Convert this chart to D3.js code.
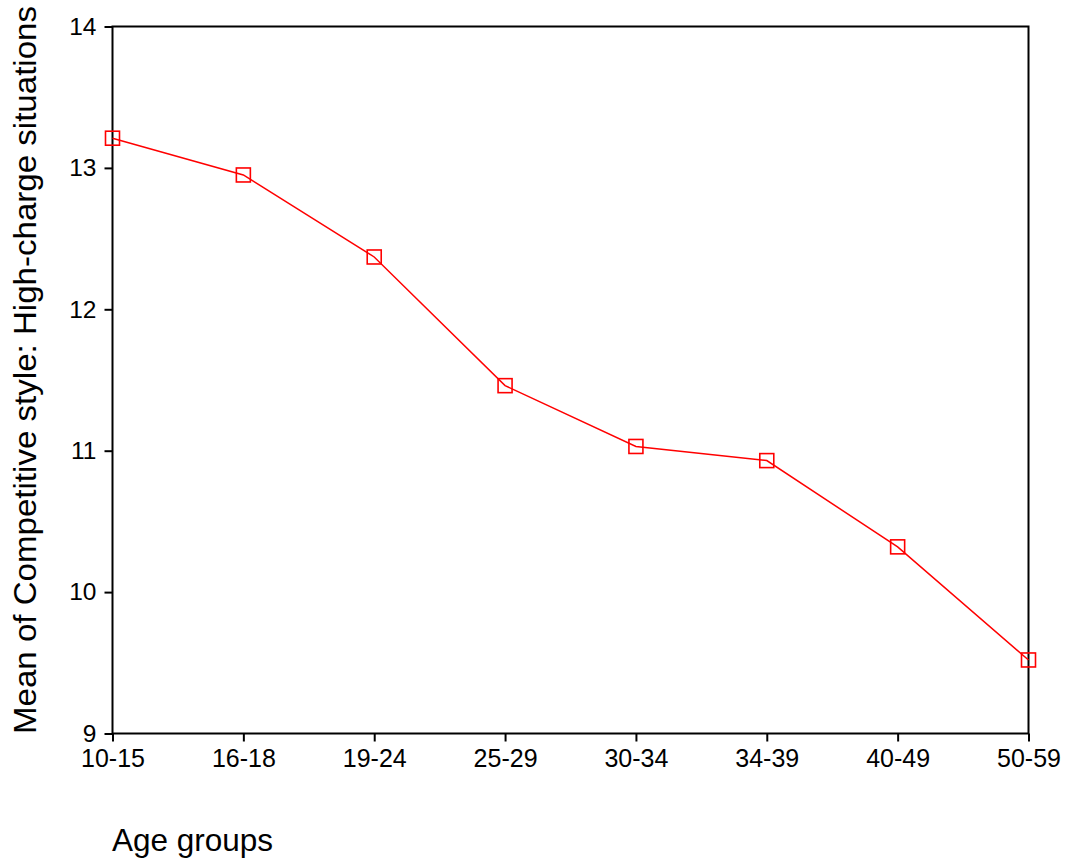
<!DOCTYPE html>
<html><head><meta charset="utf-8">
<script src="https://cdn.jsdelivr.net/npm/d3@7"></script>
<style>body{margin:0;background:#fff;} text{font-family:"Liberation Sans",Arial,sans-serif;}</style>
</head><body>
<svg id="c" width="1065" height="865"></svg>
<script>
const categories = ["10-15","16-18","19-24","25-29","30-34","34-39","40-49","50-59"];
const values = [13.21, 12.95, 12.37, 11.46, 11.03, 10.93, 10.32, 9.52];
const yTicks = [9, 10, 11, 12, 13, 14];

const svg = d3.select("#c");
const L = 112.5, R = 1028.5, T = 26.5, B = 733.5;
const x = d3.scalePoint().domain(categories).range([L, R]);
const y = d3.scaleLinear().domain([9, 14]).range([B, T]);

svg.append("rect").attr("x", L).attr("y", T).attr("width", R - L).attr("height", B - T)
  .attr("fill", "none").attr("stroke", "#000").attr("stroke-width", 2);

const ya = svg.append("g").attr("transform", `translate(${L},0)`)
  .call(d3.axisLeft(y).tickValues(yTicks).tickSize(8).tickPadding(8).tickFormat(d3.format("d")));
ya.select(".domain").remove();
ya.selectAll("line").attr("stroke-width", 2);
ya.selectAll("text").attr("font-size", 24.5).attr("fill", "#000");

const xa = svg.append("g").attr("transform", `translate(0,${B})`)
  .call(d3.axisBottom(x).tickSize(8).tickPadding(8));
xa.select(".domain").remove();
xa.selectAll("line").attr("stroke-width", 2);
xa.selectAll("text").attr("font-size", 25).attr("fill", "#000");

const data = categories.map((c, i) => ({c, v: values[i]}));
svg.append("path").datum(data)
  .attr("d", d3.line().x(d => x(d.c)).y(d => y(d.v)))
  .attr("fill", "none").attr("stroke", "#ff0000").attr("stroke-width", 1.5);

const s = 14;
svg.selectAll(".m").data(data).enter().append("rect")
  .attr("x", d => x(d.c) - s / 2).attr("y", d => y(d.v) - s / 2)
  .attr("width", s).attr("height", s)
  .attr("fill", "none").attr("stroke", "#ff0000").attr("stroke-width", 1.6);

svg.append("text").attr("x", 112).attr("y", 851).attr("font-size", 31.5).attr("fill", "#000")
  .text("Age groups");
svg.append("text").attr("transform", "translate(36,370) rotate(-90)")
  .attr("text-anchor", "middle").attr("font-size", 32).attr("fill", "#000")
  .attr("textLength", 728).attr("lengthAdjust", "spacingAndGlyphs")
  .text("Mean of Competitive style: High-charge situations");
</script>
</body></html>
